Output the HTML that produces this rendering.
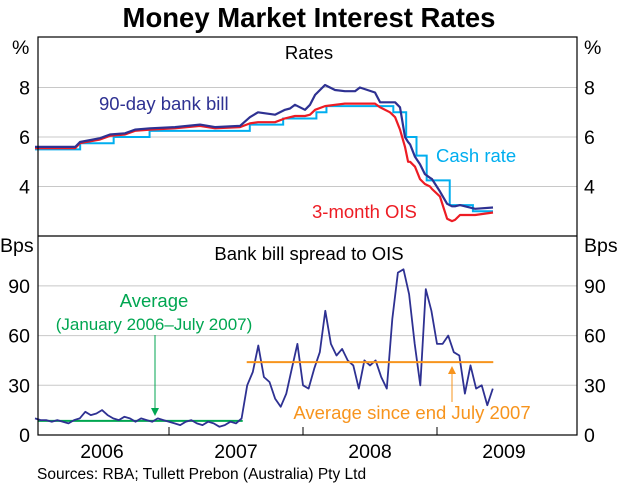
<!DOCTYPE html>
<html><head><meta charset="utf-8">
<style>
body{margin:0;background:#fff;}
svg{display:block;font-family:"Liberation Sans",Arial,sans-serif;}
</style></head>
<body>
<svg id="chart" width="619" height="486" viewBox="0 0 619 486" xmlns="http://www.w3.org/2000/svg">
<text x="309" y="27" text-anchor="middle" font-size="27.5" font-weight="bold">Money Market Interest Rates</text>
<g id="grid"></g>
<g id="series"></g>
<rect x="38" y="37" width="539" height="398" fill="none" stroke="#000" stroke-width="1.2"/>
<line x1="38" y1="236" x2="577" y2="236" stroke="#000" stroke-width="1.2"/>
<g id="axes" font-size="19.5"></g>
<text x="309" y="59" text-anchor="middle" font-size="18.5">Rates</text>
<text x="309" y="260" text-anchor="middle" font-size="18.5">Bank bill spread to OIS</text>
<text x="99" y="110" font-size="18.5" fill="#2e3192">90-day bank bill</text>
<text x="436" y="162" font-size="18.5" fill="#00aeef">Cash rate</text>
<text x="312" y="218" font-size="18.5" fill="#ed1c24">3-month OIS</text>
<text x="154" y="307" text-anchor="middle" font-size="18.5" fill="#00a651">Average</text>
<text x="154" y="330" text-anchor="middle" font-size="17" fill="#00a651">(January 2006–July 2007)</text>
<line x1="155" y1="335" x2="155" y2="410" stroke="#00a651" stroke-width="1"/>
<polygon points="151,408 159,408 155,416" fill="#00a651"/>
<text x="412" y="419" text-anchor="middle" font-size="18.5" fill="#f7941d">Average since end July 2007</text>
<line x1="452" y1="402" x2="452" y2="372" stroke="#f7941d" stroke-width="1"/>
<polygon points="448,374 456,374 452,366" fill="#f7941d"/>
<text x="37" y="479" font-size="15.5">Sources: RBA; Tullett Prebon (Australia) Pty Ltd</text>
</svg>
<script>
const rateDates=[2006.0,2006.3,2006.336,2006.485,2006.56,2006.672,2006.746,2006.858,2007.045,2007.231,2007.343,2007.53,2007.604,2007.664,2007.791,2007.866,2007.903,2007.94,2008.015,2008.052,2008.09,2008.164,2008.239,2008.313,2008.388,2008.425,2008.537,2008.575,2008.649,2008.687,2008.724,2008.761,2008.784,2008.799,2008.836,2008.873,2008.91,2008.948,2008.963,2009.022,2009.075,2009.112,2009.134,2009.172,2009.209,2009.284,2009.418];
const billValues=[5.6,5.6,5.8,5.95,6.1,6.15,6.3,6.35,6.4,6.5,6.4,6.45,6.8,7.0,6.9,7.1,7.15,7.3,7.1,7.3,7.7,8.1,7.9,7.85,7.85,8.0,7.8,7.4,7.4,7.4,7.2,6.0,5.8,5.7,5.2,4.9,4.5,4.35,4.3,3.8,3.3,3.2,3.2,3.25,3.2,3.1,3.15];
const oisValues=[5.55,5.55,5.75,5.9,6.05,6.1,6.25,6.3,6.35,6.45,6.35,6.4,6.55,6.6,6.6,6.75,6.8,6.85,6.85,6.9,7.1,7.25,7.3,7.35,7.35,7.35,7.35,7.2,7.0,6.8,6.3,5.6,5.0,5.0,4.8,4.3,4.1,4.0,3.9,3.6,2.7,2.6,2.65,2.85,2.85,2.85,2.95];
const cashDates=[2006.0,2006.337,2006.587,2006.855,2007.603,2007.852,2008.1,2008.175,2008.674,2008.77,2008.847,2008.923,2009.095,2009.268,2009.418];
const cashValues=[5.5,5.75,6.0,6.25,6.5,6.75,7.0,7.25,7.0,6.0,5.25,4.25,3.25,3.0,3.0];
const spreadValues=[10,9,9,8,9,8,7,9,10,14,12,13,15,12,10,9,11,10,8,10,9,8,10,9,8,7,6,8,9,7,6,8,7,5,6,8,7,10,30,38,54,35,32,22,17,25,40,55,30,28,40,50,75,55,48,52,45,42,28,45,42,45,35,28,70,98,100,85,55,30,88,75,55,55,60,50,48,25,42,28,30,18,28];
const spreadStart=2006.0, spreadStep=1/24;
const avgPre=8.5, avgPost=44;
const topTicks=[4,6,8], bottomTicks=[0,30,60,90];
const yearLabels=["2006","2007","2008","2009"];
const yearTicks=[2007,2008,2009];

const NS="http://www.w3.org/2000/svg";
const xS=t=>35+(t-2006)*134;
const yT=v=>137-(v-6)*24.75;
const yB=v=>435-v*49.7/30;
function mk(tag,attrs,parent){const e=document.createElementNS(NS,tag);for(const k in attrs)e.setAttribute(k,attrs[k]);parent.appendChild(e);return e;}
const grid=document.getElementById('grid'),ser=document.getElementById('series'),ax=document.getElementById('axes');
topTicks.forEach(v=>{
  const l=mk('line',{x1:38,x2:577,y1:yT(v),y2:yT(v),stroke:'#c8c8c8','stroke-width':1},grid);
  
  
  const a=mk('text',{x:30,y:yT(v)+7,'text-anchor':'end'},ax);a.textContent=v;
  
  
  const b=mk('text',{x:584,y:yT(v)+7},ax);b.textContent=v;
  
  
});
bottomTicks.forEach(v=>{
  if(v>0){const l=mk('line',{x1:38,x2:577,y1:yB(v),y2:yB(v),stroke:'#c8c8c8','stroke-width':1},grid);
  
  }
  const a=mk('text',{x:30,y:yB(v)+7,'text-anchor':'end'},ax);a.textContent=v;
  
  
  const b=mk('text',{x:584,y:yB(v)+7},ax);b.textContent=v;
  
  
});
[['%',12,54],['%',584,54],['Bps',0,252],['Bps',584,252]].forEach(u=>{
  const t=mk('text',{x:u[1],y:u[2]},ax);t.textContent=u[0];
  
  
});
yearTicks.forEach(y=>{
  const l=mk('line',{x1:xS(y),x2:xS(y),y1:435,y2:427,stroke:'#000','stroke-width':1},ax);
  
  
});
yearLabels.forEach(s=>{
  const t=mk('text',{x:xS(+s+0.5),y:458,'text-anchor':'middle'},ax);t.textContent=s;
  
  
});
function poly(dates,vals,yf,color,name,w){
  const pts=dates.map((d,i)=>xS(d).toFixed(1)+','+yf(vals[i]).toFixed(1)).join(' ');
  const p=mk('polyline',{points:pts,fill:'none',stroke:color,'stroke-width':w,'stroke-linejoin':'round'},ser);
  
  
}
let cp=[];cashDates.forEach((d,i)=>{if(i>0)cp.push(xS(d)+','+yT(cashValues[i-1]));cp.push(xS(d)+','+yT(cashValues[i]));});
const cl=mk('polyline',{points:cp.join(' '),fill:'none',stroke:'#00aeef','stroke-width':2},ser);


poly(rateDates,oisValues,yT,'#ed1c24','ois-line',2.2);
poly(rateDates,billValues,yT,'#2e3192','bank-bill-line',2.2);
const sd=spreadValues.map((v,i)=>spreadStart+i*spreadStep);
const g=mk('line',{x1:38,x2:xS(2007.55),y1:yB(avgPre),y2:yB(avgPre),stroke:'#00a651','stroke-width':2},ser);


poly(sd,spreadValues,yB,'#2e3192','spread-line',1.8);
const o=mk('line',{x1:xS(2007.58),x2:xS(2009.42),y1:yB(avgPost),y2:yB(avgPost),stroke:'#f7941d','stroke-width':2},ser);


</script>
</body></html>
